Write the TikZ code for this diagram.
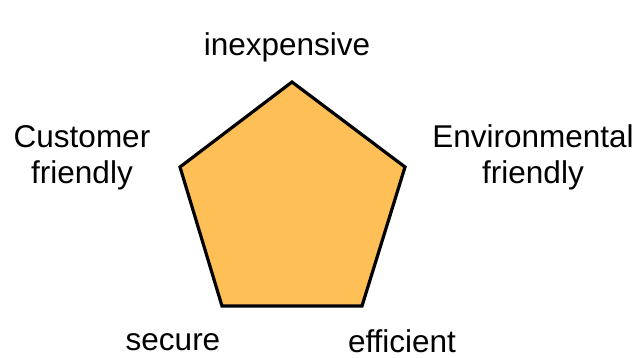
\documentclass[tikz,border=0pt]{standalone}
\usepackage{fontspec}
\setmainfont{Liberation Sans}
\definecolor{pentfill}{HTML}{FDBF56}
\begin{document}
\begin{tikzpicture}[x=1pt,y=-1pt,
  lbl/.style={font=\fontsize{31.5}{36}\selectfont, inner sep=0pt, align=center, anchor=base}]
\useasboundingbox (0,0) rectangle (638,357);
\coordinate (t) at (292,82);
\coordinate (r) at (405,167);
\coordinate (br) at (362,306);
\coordinate (bl) at (222,306);
\coordinate (l) at (180,167);
\draw[line width=3.2pt, line join=miter, fill=pentfill] (t) -- (r) -- (br) -- (bl) -- (l) -- cycle;
\node[lbl] (inexp) at (287,55) {inexpensive};
\node[lbl] (env) at (533,183) {Environmental\\friendly};
\node[lbl] (cust) at (82,183) {Customer\\friendly};
\node[lbl] (sec) at (173,350) {secure};
\node[lbl] (eff) at (402,352) {efficient};
\end{tikzpicture}
\end{document}
